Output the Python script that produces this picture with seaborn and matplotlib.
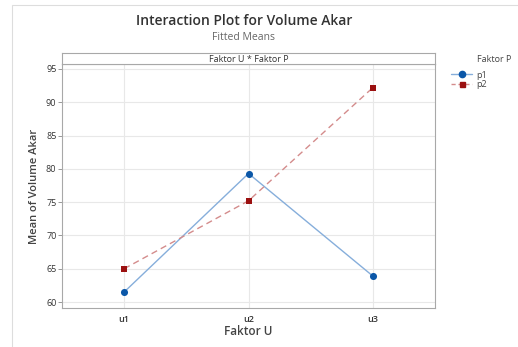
import pandas as pd
import matplotlib
matplotlib.use('Agg')
import matplotlib.pyplot as plt
import seaborn as sns
from matplotlib.lines import Line2D
from matplotlib.patches import Rectangle

# data
faktor_u = ['u1', 'u2', 'u3']
p1_means = [61.5, 79.3, 63.9]
p2_means = [65.0, 75.2, 92.2]
levels_p = ['p1', 'p2']
y_ticks = [60, 65, 70, 75, 80, 85, 90, 95]

df = pd.DataFrame({
    'Faktor U': faktor_u * 2,
    'Mean': p1_means + p2_means,
    'Faktor P': ['p1'] * 3 + ['p2'] * 3,
})
d1 = df[df['Faktor P'] == 'p1']
d2 = df[df['Faktor P'] == 'p2']

sns.set_theme(style='white')
plt.rcParams['font.family'] = ['Open Sans', 'DejaVu Sans']

line_cols = {'p1': '#86aedb', 'p2': '#d48c8c'}
mark_cols = {'p1': '#0b57a8', 'p2': '#9b1010'}

fig = plt.figure(figsize=(5.18, 3.47), dpi=100)
ax = fig.add_axes([0.1197, 0.1124, 0.7201, 0.7032])

sns.lineplot(data=d1, x='Faktor U', y='Mean', color=line_cols['p1'], lw=1.0, ax=ax, legend=False)
sns.lineplot(data=d2, x='Faktor U', y='Mean', color=line_cols['p2'], lw=1.0, ax=ax, legend=False,
             linestyle=(0, (4.5, 3)))
sns.scatterplot(data=d1, x='Faktor U', y='Mean', color=mark_cols['p1'], marker='o', s=26,
                linewidth=0, ax=ax, legend=False, zorder=5)
sns.scatterplot(data=d2, x='Faktor U', y='Mean', color=mark_cols['p2'], marker='s', s=15,
                linewidth=0, ax=ax, legend=False, zorder=5)

ax.set_xlim(-0.5, 2.5)
ax.set_ylim(59.1, 95.75)
ax.set_yticks(y_ticks)
ax.grid(True, color='#e8e8e8', lw=0.8)
ax.set_axisbelow(True)
for s in ax.spines.values():
    s.set_color('#a8a8a8')
    s.set_linewidth(0.8)
ax.tick_params(axis='y', left=True, length=3, width=0.6, color='#888888',
               labelsize=6.5, labelcolor='#333333', pad=1)
ax.tick_params(axis='x', bottom=False, labelsize=6.5, labelcolor='#333333', pad=-1)
for t in ax.get_xticklabels():
    t.set_fontweight('semibold')
ax.set_xlabel('Faktor U', fontsize=8.5, color='#444444', fontweight='semibold', labelpad=1)
ax.set_ylabel('Mean of Volume Akar', fontsize=8, color='#444444', fontweight='semibold', labelpad=4)

# strip header
strip = fig.add_axes([0.1197, 0.8156, 0.7201, 0.0317])
strip.set_xticks([])
strip.set_yticks([])
strip.set_facecolor('white')
for s in strip.spines.values():
    s.set_color('#a8a8a8')
    s.set_linewidth(0.8)
strip.text(0.5, 0.45, 'Faktor U * Faktor P', ha='center', va='center', fontsize=6.5,
           color='#333333', transform=strip.transAxes)

fig.text(0.471, 0.94, 'Interaction Plot for Volume Akar', ha='center', va='center',
         fontsize=10, fontweight='semibold', color='#333333')
fig.text(0.471, 0.893, 'Fitted Means', ha='center', va='center', fontsize=7.5, color='#666666')

handles = [
    Line2D([], [], color=line_cols['p1'], lw=1.0, marker='o', markersize=4.5,
           markerfacecolor=mark_cols['p1'], markeredgecolor=mark_cols['p1']),
    Line2D([], [], color=line_cols['p2'], lw=1.0, ls=(0, (3, 2)), marker='s', markersize=3.6,
           markerfacecolor=mark_cols['p2'], markeredgecolor=mark_cols['p2']),
]
leg = fig.legend(handles, levels_p, loc='upper left',
                 bbox_to_anchor=(0.858, 0.815), frameon=False, fontsize=6.5,
                 handlelength=2.4, handletextpad=0.4,
                 labelspacing=0.1, borderpad=0.2)
for t in leg.get_texts():
    t.set_color('#444444')
# legend title sits over the labels, as in the original
fig.text(477 / 518, 1 - 60 / 347, 'Faktor P', ha='left', va='center', fontsize=6.5, color='#444444')

# outer frame of the original screenshot
fig.patches.append(Rectangle((12 / 518, -0.1), 1.2, 1.1 - 5 / 347, transform=fig.transFigure,
                             fill=False, edgecolor='#dddddd', lw=0.8, figure=fig))

fig.savefig('out.png', dpi=100)
